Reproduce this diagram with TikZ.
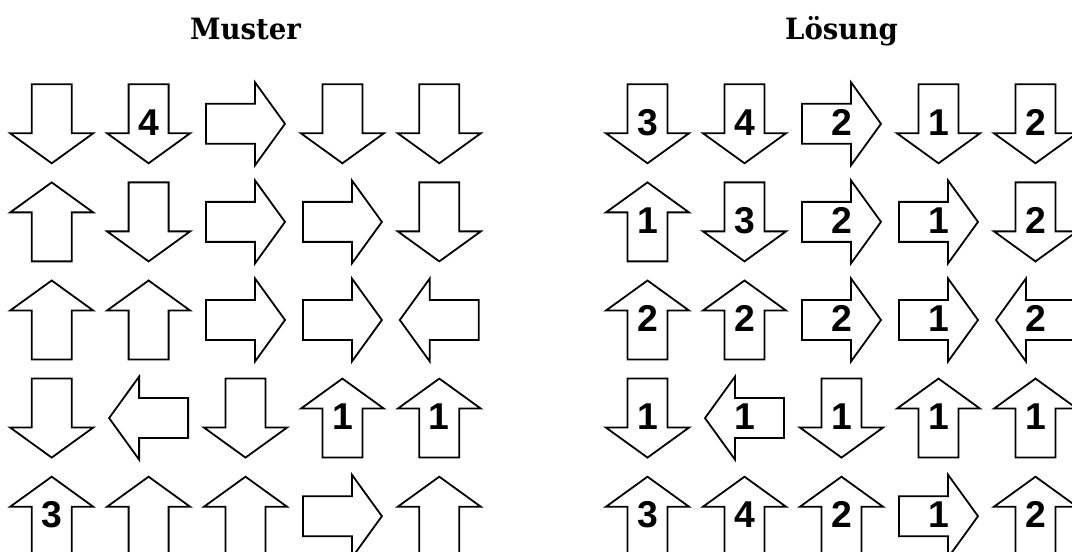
\documentclass[tikz,border=0pt]{standalone}
\usepackage{fontspec}
\newfontfamily\titlefont{DejaVu Serif}[FakeStretch=0.94]
\newfontfamily\numfont{Liberation Sans}
\begin{document}
\begin{tikzpicture}[x=0.75pt,y=-0.75pt,
  arrowline/.style={draw=black,line width=1.35pt,line join=miter,fill=white},
  num/.style={font=\numfont\bfseries\fontsize{28}{28}\selectfont,inner sep=0pt},
  titletext/.style={font=\titlefont\bfseries\fontsize{22}{22}\selectfont,anchor=base,inner sep=0pt},
  pfeil/.pic={\draw[arrowline] (-39.5,-20) -- (9.5,-20) -- (9.5,-41.5) -- (39.5,0) -- (9.5,41.5) -- (9.5,20) -- (-39.5,20) -- cycle;}]
\useasboundingbox (0,0) rectangle (1072,552);
\clip (0,0) rectangle (1072,552);
\node[titletext] (muster) at (245.5,40) {Muster};
\node[titletext] (loesung) at (841.5,40) {Lösung};
% left grid arrows
\foreach \r/\c/\a in {1/1/-90,1/2/-90,1/3/0,1/4/-90,1/5/-90,
                      2/1/90,2/2/-90,2/3/0,2/4/0,2/5/-90,
                      3/1/90,3/2/90,3/3/0,3/4/0,3/5/180,
                      4/1/-90,4/2/180,4/3/-90,4/4/90,4/5/90,
                      5/1/90,5/2/90,5/3/90,5/4/0,5/5/90}
  \pic[rotate=\a] at ({51.7+96.9*(\c-1)},{123.8+98.1*(\r-1)}) {pfeil};
% right grid arrows
\foreach \r/\c/\a in {1/1/-90,1/2/-90,1/3/0,1/4/-90,1/5/-90,
                      2/1/90,2/2/-90,2/3/0,2/4/0,2/5/-90,
                      3/1/90,3/2/90,3/3/0,3/4/0,3/5/180,
                      4/1/-90,4/2/180,4/3/-90,4/4/90,4/5/90,
                      5/1/90,5/2/90,5/3/90,5/4/0,5/5/90}
  \pic[rotate=\a] at ({647.5+97*(\c-1)},{123.8+98.1*(\r-1)}) {pfeil};
% left grid numbers
\foreach \r/\c/\t in {1/2/4,4/4/1,4/5/1,5/1/3}
  \node[num] (m\r\c) at ({51.7+96.9*(\c-1)},{122.3+98.1*(\r-1)}) {\t};
% right grid numbers
\foreach \r/\c/\t in {1/1/3,1/2/4,1/3/2,1/4/1,1/5/2,
                      2/1/1,2/2/3,2/3/2,2/4/1,2/5/2,
                      3/1/2,3/2/2,3/3/2,3/4/1,3/5/2,
                      4/1/1,4/2/1,4/3/1,4/4/1,4/5/1,
                      5/1/3,5/2/4,5/3/2,5/4/1,5/5/2}
  \node[num] (l\r\c) at ({647.5+97*(\c-1)},{122.3+98.1*(\r-1)}) {\t};
\end{tikzpicture}
\end{document}
